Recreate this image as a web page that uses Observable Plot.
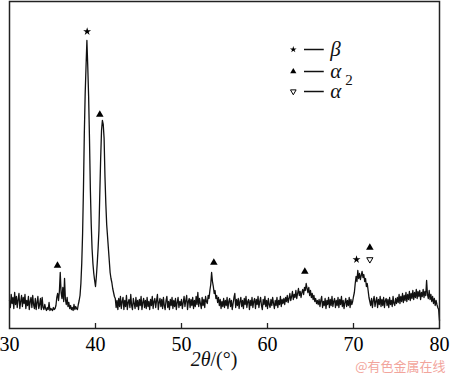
<!DOCTYPE html>
<html>
<head>
<meta charset="utf-8">
<script src="https://cdn.jsdelivr.net/npm/d3@7"></script>
<script src="https://cdn.jsdelivr.net/npm/@observablehq/plot@0.6"></script>
<style>
  html, body { margin: 0; padding: 0; background: white; }
</style>
</head>
<body>
<div id="chart"></div>
<script>
// XRD scan: 2θ from 30° to 80°, step 0.1°
const scanStart = 30;
const scanStep = 0.1;
const intensity = [
  28, 21, 34, 25, 31, 20, 36, 24, 32, 21,
  29, 35, 20, 27, 33, 22, 31, 25, 34, 20,
  28, 23, 32, 19, 27, 31, 21, 33, 24, 20,
  30, 19, 26, 32, 20, 24, 30, 19, 31, 21,
  19, 24, 20, 18, 21, 19, 26, 18, 20, 19,
  18, 21, 19, 20, 23, 31, 35, 28, 37, 56,
  36, 30, 41, 27, 50, 29, 24, 31, 22, 26,
  20, 23, 19, 21, 18, 24, 19, 22, 20, 19,
  24, 28, 33, 45, 65, 95, 140, 195, 235, 262,
  288, 262, 232, 190, 140, 105, 80, 65, 55, 48,
  42, 52, 65, 80, 98, 135, 170, 198, 208, 204,
  190, 152, 125, 104, 92, 80, 68, 56, 50, 46,
  40, 36, 32, 30, 21, 28, 19, 30, 22, 32,
  20, 27, 31, 19, 28, 22, 33, 19, 26, 29,
  21, 34, 23, 19, 30, 25, 20, 31, 22, 28,
  19, 29, 23, 32, 19, 26, 30, 21, 28, 20,
  31, 22, 27, 19, 29, 23, 32, 20, 27, 30,
  21, 28, 34, 19, 26, 30, 22, 29, 20, 31,
  23, 19, 28, 32, 21, 27, 19, 29, 23, 31,
  20, 28, 22, 30, 19, 26, 31, 21, 27, 23,
  29, 20, 26, 32, 22, 28, 33, 19, 27, 30,
  21, 29, 23, 31, 20, 28, 22, 32, 24, 36,
  22, 30, 25, 20, 31, 23, 29, 21, 32, 27,
  25, 33, 30, 38, 44, 56, 47, 42, 35, 38,
  30, 33, 26, 31, 23, 29, 20, 27, 22, 30,
  21, 28, 23, 31, 20, 27, 30, 22, 28, 19,
  25, 31, 35, 21, 29, 23, 30, 20, 27, 31,
  22, 28, 20, 30, 24, 32, 21, 27, 29, 19,
  28, 23, 31, 21, 27, 30, 20, 29, 24, 32,
  21, 27, 31, 23, 19, 29, 24, 32, 22, 28,
  20, 30, 24, 21, 29, 23, 31, 25, 20, 28,
  23, 31, 21, 28, 24, 32, 22, 29, 25, 30,
  24, 31, 27, 33, 26, 30, 35, 28, 32, 37,
  29, 34, 31, 38, 30, 35, 40, 33, 37, 31,
  36, 39, 34, 41, 38, 45, 40, 36, 41, 33,
  38, 31, 35, 29, 33, 27, 30, 25, 28, 24,
  29, 22, 28, 32, 21, 27, 23, 30, 20, 28,
  24, 31, 21, 29, 23, 32, 22, 27, 30, 21,
  28, 23, 31, 21, 29, 24, 32, 22, 28, 20,
  26, 30, 22, 28, 23, 31, 21, 29, 24, 27,
  32, 36, 45, 52, 47, 58, 50, 55, 49, 53,
  57, 51, 54, 47, 50, 42, 45, 38, 31, 27,
  23, 30, 21, 28, 32, 22, 27, 31, 21, 29,
  24, 32, 22, 29, 23, 31, 21, 28, 30, 23,
  29, 21, 31, 24, 28, 22, 32, 25, 23, 30,
  25, 31, 26, 34, 25, 32, 27, 35, 26, 33,
  28, 36, 27, 34, 29, 37, 28, 35, 30, 38,
  29, 36, 31, 39, 30, 37, 32, 38, 29, 36,
  32, 39, 31, 37, 33, 48, 34, 30, 38, 29,
  34, 27, 32, 25, 30, 23, 28, 24, 21, 19,
  8
];

// Peak phase markers (2θ, marker level in intensity units, phase)
const markTheta = [39.03, 40.5, 35.58, 53.76, 64.34, 70.35, 71.9, 71.9];
const markLevel = [297, 214, 63, 66, 57, 69, 69, 81];
const markPhase = ["β", "α2", "α2", "α2", "α2", "β", "α", "α2"];

// Legend
const legendPhase = ["β", "α2", "α"];
const legendLabel = ["β", "α", "α"];
const legendSub = ["", "2", ""];
const legendLevel = [279, 257, 237];

// Axis ticks
const xTicks = [30, 40, 50, 60, 70, 80];
const xInnerTicks = [40, 50, 60, 70];

const data = intensity.map((v, i) => ({theta: +(scanStart + i * scanStep).toFixed(2), v}));
const marks = markTheta.map((t, i) => ({theta: t, level: markLevel[i], phase: markPhase[i]}));
const legend = legendPhase.map((p, i) => ({phase: p, label: legendLabel[i], sub: legendSub[i], level: legendLevel[i]}));

const legSymX = 63.0, legLineX1 = 64.3, legLineX2 = 66.6, legTextX = 67.3;
const serif = "'Liberation Serif', 'Times New Roman', Times, serif";

const chart = Plot.plot({
  width: 450,
  height: 376,
  marginTop: 1,
  marginBottom: 48,
  marginLeft: 9,
  marginRight: 11,
  x: {domain: [30, 80]},
  y: {domain: [0, 327], axis: null},
  style: {fontFamily: serif, fontSize: "20px", background: "white", color: "black"},
  marks: [
    Plot.line(data, {x: "theta", y: "v", stroke: "#111", strokeWidth: 1.3}),
    Plot.ruleX(xInnerTicks, {x: d => d, y1: 0, y2: 5, stroke: "#222", strokeWidth: 1.3}),
    Plot.axisX({ticks: xTicks, tickSize: 0, tickPadding: 8, fontSize: 20, fontFamily: serif, label: null}),
    Plot.frame({stroke: "#222", strokeWidth: 1.5}),
    // peak markers
    Plot.dot(marks.filter(d => d.phase === "β"), {x: "theta", y: "level", symbol: "star", r: 2.5, fill: "black", stroke: "none"}),
    Plot.dot(marks.filter(d => d.phase === "α2"), {x: "theta", y: "level", symbol: "triangle", r: 2.8, fill: "black", stroke: "none"}),
    Plot.dot(marks.filter(d => d.phase === "α"), {x: "theta", y: "level", symbol: "triangle", r: 2.3, rotate: 180, fill: "white", stroke: "black", strokeWidth: 1}),
    // legend
    Plot.dot(legend.filter(d => d.phase === "β"), {x: legSymX, y: "level", symbol: "star", r: 2.1, fill: "black", stroke: "none"}),
    Plot.dot(legend.filter(d => d.phase === "α2"), {x: legSymX, y: "level", symbol: "triangle", r: 2.3, fill: "black", stroke: "none"}),
    Plot.dot(legend.filter(d => d.phase === "α"), {x: legSymX, y: "level", symbol: "triangle", r: 2.1, rotate: 180, fill: "white", stroke: "black", strokeWidth: 1}),
    Plot.ruleY(legend, {y: "level", x1: legLineX1, x2: legLineX2, stroke: "#111", strokeWidth: 1.5}),
    Plot.text(legend, {x: legTextX, y: "level", text: "label", textAnchor: "start", fontStyle: "italic", fontSize: 21, fontFamily: serif, fill: "#111"}),
    Plot.text(legend, {x: legTextX, y: "level", text: "sub", textAnchor: "start", dx: 15, dy: 9, fontSize: 15, fontFamily: serif, fill: "#111"}),
    // x-axis title
    Plot.text(["2θ"], {frameAnchor: "bottom", textAnchor: "end", dx: -14, dy: 37, fontStyle: "italic", fontSize: 20, fontFamily: serif, fill: "#111"}),
    Plot.text(["/(°)"], {frameAnchor: "bottom", textAnchor: "start", dx: -14, dy: 37, fontSize: 20, fontFamily: serif, fill: "#111"}),
    // watermark
    Plot.text(["@有色金属在线"], {frameAnchor: "bottom-right", textAnchor: "end", dx: 6, dy: 42, fontSize: 13, fontFamily: "Noto Sans CJK SC", fill: "#f2a59c"})
  ]
});

document.getElementById("chart").appendChild(chart);
</script>
</body>
</html>
